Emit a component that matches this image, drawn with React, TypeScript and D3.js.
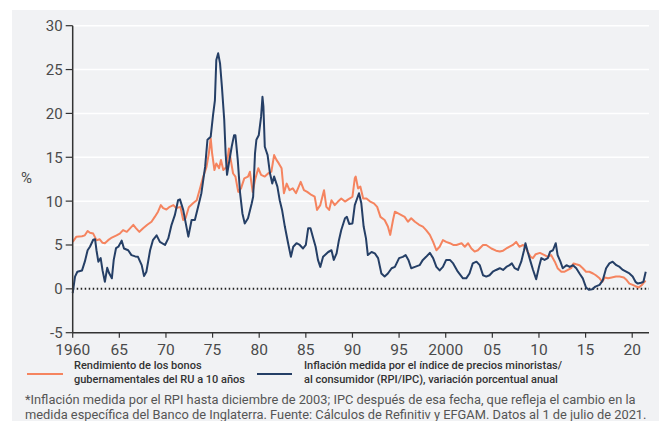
import React from "react";
import * as d3 from "d3";

// [year, value] pairs
const inflation: [number, number][] = [
  [1960.0, -0.5], [1960.25, 1.4], [1960.5, 1.95], [1961.0, 2.1], [1961.3, 3.1], [1961.6, 4.4],
  [1961.85, 4.8], [1962.2, 5.6], [1962.4, 5.65], [1962.55, 4.4], [1962.75, 3.1], [1963.0, 3.5],
  [1963.2, 2.1], [1963.45, 0.8], [1963.7, 2.4], [1963.9, 1.8], [1964.2, 1.2], [1964.4, 3.3],
  [1964.65, 4.65], [1964.9, 4.8], [1965.25, 5.5], [1965.5, 4.6], [1965.95, 4.4], [1966.3, 3.85],
  [1966.7, 3.7], [1967.0, 3.65], [1967.4, 2.7], [1967.65, 1.45], [1967.9, 1.95], [1968.3, 4.4],
  [1968.6, 5.55], [1969.0, 6.1], [1969.35, 5.35], [1969.9, 5.0], [1970.25, 5.75], [1970.6, 7.3],
  [1970.95, 8.4], [1971.3, 10.1], [1971.5, 10.2], [1971.85, 9.0], [1972.1, 7.6], [1972.4, 5.95],
  [1972.75, 7.85], [1973.1, 7.85], [1973.45, 9.35], [1973.8, 10.9], [1974.2, 13.9], [1974.45, 17.0],
  [1974.8, 17.35], [1975.05, 19.8], [1975.25, 21.5], [1975.4, 26.1], [1975.6, 26.85], [1975.8, 25.7],
  [1976.0, 23.05], [1976.25, 19.25], [1976.4, 15.45], [1976.55, 13.0], [1976.75, 14.3], [1977.05, 16.2],
  [1977.3, 17.5], [1977.45, 17.5], [1977.7, 14.7], [1977.95, 10.9], [1978.2, 8.6], [1978.45, 7.45],
  [1978.8, 8.05], [1979.2, 9.75], [1979.35, 10.5], [1979.55, 15.45], [1979.7, 17.0], [1979.95, 17.5],
  [1980.2, 19.6], [1980.35, 21.9], [1980.45, 20.8], [1980.6, 16.2], [1980.9, 15.25], [1981.15, 13.2],
  [1981.4, 12.0], [1981.6, 12.8], [1981.95, 11.65], [1982.2, 10.1], [1982.45, 9.0], [1982.75, 7.1],
  [1983.1, 5.2], [1983.4, 3.65], [1983.65, 4.8], [1984.0, 5.2], [1984.35, 5.0], [1984.7, 4.6],
  [1985.0, 5.0], [1985.25, 6.9], [1985.5, 6.9], [1985.8, 5.75], [1986.05, 4.8], [1986.3, 3.3],
  [1986.55, 2.5], [1986.85, 3.65], [1987.4, 4.2], [1987.75, 4.4], [1988.0, 3.3], [1988.3, 4.05],
  [1988.55, 5.55], [1988.8, 6.7], [1989.2, 8.05], [1989.4, 8.2], [1989.65, 7.4], [1990.0, 7.45],
  [1990.25, 9.55], [1990.5, 10.3], [1990.7, 10.9], [1990.95, 9.75], [1991.2, 7.1], [1991.45, 5.75],
  [1991.65, 3.85], [1992.05, 4.2], [1992.4, 4.05], [1992.75, 3.5], [1993.1, 1.75], [1993.45, 1.4],
  [1993.8, 1.75], [1994.2, 2.35], [1994.55, 2.5], [1995.0, 3.5], [1995.4, 3.65], [1995.7, 3.85],
  [1996.0, 3.3], [1996.3, 2.35], [1996.7, 2.5], [1997.2, 2.7], [1997.55, 3.3], [1997.9, 3.65],
  [1998.3, 4.1], [1998.65, 3.5], [1999.0, 2.5], [1999.35, 2.1], [1999.7, 2.5], [2000.05, 3.3],
  [2000.45, 3.3], [2000.8, 2.9], [2001.3, 1.95], [2001.85, 1.2], [2002.2, 1.2], [2002.55, 1.75],
  [2002.9, 2.9], [2003.3, 3.1], [2003.65, 2.7], [2004.0, 1.55], [2004.35, 1.4], [2004.7, 1.55],
  [2005.05, 1.95], [2005.4, 2.15], [2005.8, 2.35], [2006.15, 2.15], [2006.5, 2.5], [2006.85, 2.7],
  [2007.1, 2.9], [2007.4, 2.35], [2007.75, 2.15], [2008.1, 3.1], [2008.4, 4.4], [2008.55, 5.2],
  [2008.8, 4.2], [2009.1, 3.1], [2009.35, 2.2], [2009.7, 1.1], [2010.0, 2.5], [2010.25, 3.5],
  [2010.6, 3.3], [2010.95, 3.5], [2011.2, 4.25], [2011.5, 4.4], [2011.8, 5.2], [2012.0, 3.85],
  [2012.3, 3.1], [2012.55, 2.35], [2012.95, 2.7], [2013.3, 2.5], [2013.65, 2.7], [2014.0, 2.35],
  [2014.35, 1.75], [2014.7, 1.2], [2015.05, 0.15], [2015.35, -0.1], [2015.7, -0.05], [2016.05, 0.25],
  [2016.5, 0.45], [2016.85, 1.0], [2017.2, 2.35], [2017.55, 2.9], [2017.9, 3.1], [2018.3, 2.7],
  [2018.65, 2.5], [2019.0, 2.15], [2019.35, 1.95], [2019.7, 1.75], [2020.05, 1.4], [2020.35, 0.8],
  [2020.6, 0.6], [2020.95, 0.7], [2021.2, 0.8], [2021.45, 1.95],
];

const bondYield: [number, number][] = [
  [1960.0, 5.35], [1960.4, 5.95], [1961.0, 6.0], [1961.3, 6.1], [1961.6, 6.6], [1961.85, 6.4],
  [1962.2, 6.3], [1962.55, 5.55], [1962.9, 5.65], [1963.2, 5.25], [1963.45, 5.2], [1963.8, 5.55],
  [1964.2, 5.85], [1964.7, 6.1], [1965.05, 6.3], [1965.4, 6.7], [1965.8, 6.5], [1966.15, 6.9],
  [1966.5, 7.3], [1966.8, 6.9], [1967.15, 6.5], [1967.55, 6.9], [1968.0, 7.3], [1968.45, 7.65],
  [1968.8, 8.2], [1969.15, 8.8], [1969.45, 9.55], [1969.7, 9.2], [1970.05, 9.05], [1970.4, 9.35],
  [1970.8, 9.55], [1971.1, 9.2], [1971.55, 9.35], [1971.85, 7.85], [1972.1, 8.05], [1972.45, 9.3],
  [1972.9, 9.75], [1973.3, 10.1], [1973.65, 11.45], [1974.0, 12.8], [1974.35, 13.9], [1974.6, 15.45],
  [1974.8, 17.15], [1974.95, 15.45], [1975.2, 13.55], [1975.4, 14.3], [1975.7, 13.75], [1975.9, 14.7],
  [1976.15, 13.55], [1976.5, 13.9], [1976.75, 16.0], [1976.95, 14.7], [1977.2, 13.15], [1977.45, 12.8],
  [1977.75, 11.05], [1978.05, 11.45], [1978.4, 12.6], [1978.8, 12.8], [1979.0, 13.35], [1979.3, 11.05],
  [1979.55, 12.4], [1979.9, 13.75], [1980.2, 13.0], [1980.6, 12.8], [1980.95, 13.15], [1981.3, 13.35],
  [1981.6, 15.25], [1981.85, 14.7], [1982.1, 14.3], [1982.4, 13.75], [1982.65, 10.9], [1982.95, 12.0],
  [1983.25, 11.25], [1983.6, 11.45], [1983.95, 10.9], [1984.45, 12.2], [1984.8, 11.25], [1985.15, 11.05],
  [1985.6, 10.7], [1985.95, 10.5], [1986.2, 9.0], [1986.55, 9.55], [1986.95, 11.25], [1987.2, 9.35],
  [1987.5, 9.0], [1987.75, 10.1], [1988.1, 9.55], [1988.45, 9.95], [1988.8, 10.3], [1989.2, 9.95],
  [1989.55, 10.2], [1990.0, 10.5], [1990.25, 12.6], [1990.35, 12.8], [1990.6, 11.45], [1990.85, 11.65],
  [1991.15, 10.3], [1991.5, 10.3], [1991.9, 9.95], [1992.3, 9.75], [1992.65, 9.35], [1993.0, 8.2],
  [1993.45, 7.85], [1993.8, 7.1], [1994.05, 6.15], [1994.35, 7.85], [1994.55, 8.8], [1994.9, 8.6],
  [1995.25, 8.4], [1995.6, 8.2], [1995.95, 7.65], [1996.3, 8.05], [1996.7, 7.65], [1997.15, 7.3],
  [1997.55, 7.1], [1997.9, 6.7], [1998.3, 6.15], [1998.65, 5.35], [1999.0, 4.4], [1999.35, 4.8],
  [1999.7, 5.55], [2000.05, 5.35], [2000.45, 5.2], [2000.8, 5.0], [2001.15, 5.0], [2001.7, 5.2],
  [2002.05, 4.8], [2002.4, 5.2], [2002.75, 4.6], [2003.1, 4.25], [2003.45, 4.4], [2004.0, 5.0],
  [2004.35, 5.0], [2004.9, 4.6], [2005.4, 4.35], [2005.8, 4.25], [2006.15, 4.35], [2006.5, 4.6],
  [2006.85, 4.8], [2007.2, 5.0], [2007.55, 5.35], [2007.9, 4.8], [2008.3, 5.0], [2008.55, 4.8],
  [2008.8, 4.2], [2009.1, 3.65], [2009.35, 3.5], [2009.65, 3.95], [2010.1, 4.1], [2010.6, 3.85],
  [2010.95, 3.65], [2011.3, 3.85], [2011.7, 3.1], [2012.0, 2.35], [2012.4, 1.95], [2012.75, 1.95],
  [2013.1, 2.15], [2013.45, 2.35], [2013.7, 2.9], [2014.0, 2.8], [2014.35, 2.7], [2014.7, 2.35],
  [2015.05, 1.95], [2015.4, 1.95], [2015.8, 1.75], [2016.1, 1.55], [2016.5, 1.2], [2016.8, 0.8],
  [2017.05, 1.3], [2017.4, 1.2], [2017.8, 1.3], [2018.25, 1.4], [2018.65, 1.4], [2019.1, 1.3],
  [2019.4, 1.0], [2019.7, 0.6], [2020.05, 0.45], [2020.35, 0.3], [2020.7, 0.15], [2021.05, 0.45],
  [2021.3, 0.8], [2021.45, 0.9],
];

const yTicks = [-5, 0, 5, 10, 15, 20, 25, 30];
const xTicks = [1960, 1965, 1970, 1975, 1980, 1985, 1990, 1995, 2000, 2005, 2010, 2015, 2020];
const xTickLabels = ["1960", "65", "70", "75", "80", "85", "90", "95", "2000", "05", "10", "15", "20"];

const legendBond = ["Rendimiento de los bonos", "gubernamentales del RU a 10 años"];
const legendInflation = [
  "Inflación medida por el índice de precios minoristas/",
  "al consumidor (RPI/IPC), variación porcentual anual",
];
const footnote = [
  "*Inflación medida por el RPI hasta diciembre de 2003; IPC después de esa fecha, que refleja el cambio en la",
  "medida específica del Banco de Inglaterra. Fuente: Cálculos de Refinitiv y EFGAM. Datos al 1 de julio de 2021.",
];

const W = 659;
const H = 421;
const ORANGE = "#f5845f";
const BLUE = "#253f66";
const FONT = "Roboto, 'Open Sans', sans-serif";

export default function App() {
  const left = 72.7;
  const right = 649;
  const top = 25.7;
  const bottom = 332.7;

  const x = d3.scaleLinear().domain([1960, 2021.8]).range([left, right]);
  const y = d3.scaleLinear().domain([-5, 30]).range([bottom, top]);

  const line = d3
    .line<[number, number]>()
    .x((d) => x(d[0]))
    .y((d) => y(d[1]));

  return (
    <svg
      width={W}
      height={H}
      style={{ position: "absolute", left: 0, top: 0, fontFamily: FONT }}
    >
      <rect x={12} y={10} width={W - 12} height={H - 10} fill="#f1f2f4" />

      {yTicks
        .filter((t) => t > 0)
        .map((t) => (
          <line key={t} x1={left} x2={right} y1={y(t)} y2={y(t)} stroke="#fff" strokeWidth={1.5} />
        ))}

      <line
        x1={left}
        x2={right}
        y1={y(0)}
        y2={y(0)}
        stroke="#222"
        strokeWidth={2}
        strokeDasharray="1.5,2.5"
      />

      <path d={line(bondYield) ?? ""} fill="none" stroke={ORANGE} strokeWidth={2} strokeLinejoin="round" />
      <path d={line(inflation) ?? ""} fill="none" stroke={BLUE} strokeWidth={2} strokeLinejoin="round" />

      {/* y axis */}
      <line x1={left} x2={left} y1={top} y2={bottom} stroke="#333" strokeWidth={1.5} />
      {yTicks.map((t) => (
        <g key={t}>
          <line x1={left - 7} x2={left} y1={y(t)} y2={y(t)} stroke="#333" strokeWidth={1.2} />
          <text x={left - 10} y={y(t)} dy="0.36em" textAnchor="end" fontSize={15} fill="#4a4a4a">
            {t}
          </text>
        </g>
      ))}
      <text x={21} y={183} fontSize={15} fill="#4a4a4a">%</text>

      {/* x axis */}
      <line x1={left} x2={right} y1={bottom} y2={bottom} stroke="#333" strokeWidth={1.5} />
      {xTicks.map((t, i) => (
        <g key={t}>
          <line x1={x(t)} x2={x(t)} y1={bottom} y2={bottom + 5} stroke="#333" strokeWidth={1.2} />
          <text x={x(t)} y={355} textAnchor="middle" fontSize={15.5} fill="#4a4a4a">
            {xTickLabels[i]}
          </text>
        </g>
      ))}

      {/* legend */}
      <line x1={27} x2={63} y1={374} y2={374} stroke={ORANGE} strokeWidth={2} />
      {legendBond.map((s, i) => (
        <text key={s} x={74} y={369.3 + i * 13.4} fontSize={11} fontWeight={500} fill="#333">
          {s}
        </text>
      ))}
      <line x1={257} x2={292} y1={374} y2={374} stroke={BLUE} strokeWidth={2} />
      {legendInflation.map((s, i) => (
        <text key={s} x={304} y={369.3 + i * 13.4} fontSize={11} fontWeight={500} fill="#333">
          {s}
        </text>
      ))}

      {/* footnote */}
      {footnote.map((s, i) => (
        <text key={s} x={25} y={404 + i * 14.8} fontSize={12.85} fill="#555">
          {s}
        </text>
      ))}
    </svg>
  );
}
